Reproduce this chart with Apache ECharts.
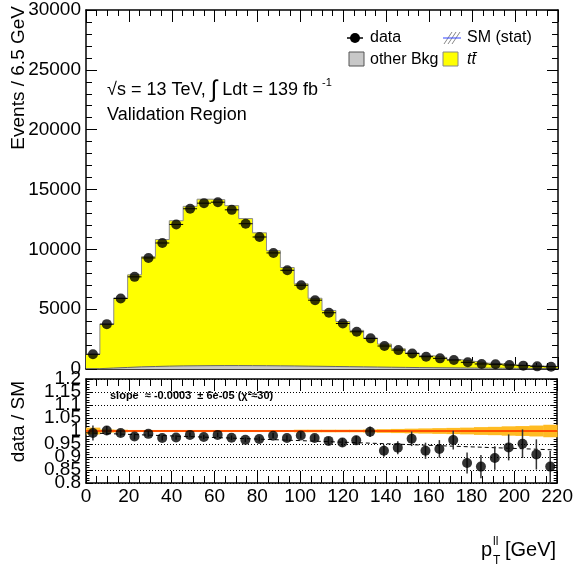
<!DOCTYPE html>
<html>
<head>
<meta charset="utf-8">
<script src="https://cdn.jsdelivr.net/npm/echarts@6/dist/echarts.min.js"></script>
<style>
  html, body { margin: 0; padding: 0; background: #fff; }
  #chart { width: 576px; height: 570px; }
</style>
</head>
<body>
<div id="chart"></div>
<script>
// 34 bins from 0 to 220 GeV
var binWidth = 220 / 34;

// events per bin
var dataCounts = [1230, 3750, 5890, 7700, 9280, 10530, 12080, 13390, 13860, 13940,
  13300, 12140, 11030, 9700, 8250, 7000, 5750, 4700, 3800, 3110,
  2560, 1920, 1580, 1300, 1030, 890, 750, 560, 420, 390,
  330, 280, 220, 190];
var ttbarMC = [1210, 3660, 5810, 7690, 9170, 10580, 12130, 13320, 13910, 13865,
  13365, 12290, 11105, 9615, 8225, 6880, 5685, 4680, 3775, 3050,
  2405, 1930, 1555, 1220, 1000, 860, 690, 560, 418, 370,
  292, 243, 193, 178];
var otherBkg = [30, 80, 130, 180, 210, 240, 260, 270, 280, 285,
  285, 280, 275, 265, 255, 240, 225, 210, 195, 180,
  165, 150, 135, 120, 110, 100, 90, 80, 72, 65,
  58, 52, 47, 42];

// data / SM
var ratioVals = [0.992, 1.002, 0.992, 0.979, 0.989, 0.973, 0.975, 0.985, 0.977, 0.985,
  0.974, 0.966, 0.969, 0.982, 0.973, 0.983, 0.973, 0.962, 0.956, 0.964,
  0.997, 0.924, 0.936, 0.970, 0.924, 0.931, 0.965, 0.877, 0.863, 0.896,
  0.937, 0.951, 0.910, 0.863];
var ratioErr = [0.029, 0.017, 0.013, 0.012, 0.011, 0.010, 0.009, 0.009, 0.009, 0.009,
  0.009, 0.009, 0.0095, 0.010, 0.011, 0.012, 0.013, 0.015, 0.016, 0.018,
  0.020, 0.023, 0.025, 0.028, 0.031, 0.034, 0.036, 0.040, 0.045, 0.045,
  0.050, 0.055, 0.058, 0.060];
// SM stat band half width
var bandHalf = [0.013, 0.006, 0.005, 0.004, 0.004, 0.004, 0.004, 0.004, 0.004, 0.004,
  0.004, 0.004, 0.004, 0.004, 0.004, 0.005, 0.005, 0.005, 0.005, 0.005,
  0.006, 0.007, 0.008, 0.009, 0.010, 0.011, 0.012, 0.013, 0.015, 0.016,
  0.018, 0.019, 0.021, 0.024];

var fitIntercept = 0.993;
var fitSlope = -0.0003;

var xTicks = { min: 0, max: 220, interval: 20 };
// ratio labels split in two sets so ECharts does not drop the crowded ones
var ratioLabelsA = [0.8, 0.9, 1, 1.1, 1.2];
var ratioLabelsB = [0.85, 0.95, 1.05, 1.15];
var font = 'Liberation Sans, Arial, Helvetica, sans-serif';

// stacked total (ttbar on top of other Bkg)
var stackTop = ttbarMC.map(function (v, i) { return v + otherBkg[i]; });

function stepData(vals) {
  var d = vals.map(function (v, i) { return [i * binWidth, v]; });
  d.push([vals.length * binWidth, vals[vals.length - 1]]);
  return d;
}
function centers(vals) {
  return vals.map(function (v, i) { return [(i + 0.5) * binWidth, v]; });
}

var chart = echarts.init(document.getElementById('chart'));

function xAxisDef(grid, pos, showLabel, tickLen, minorLen) {
  return {
    type: 'value', gridIndex: grid, position: pos,
    min: xTicks.min, max: xTicks.max, interval: xTicks.interval,
    axisLine: { show: true, onZero: false, lineStyle: { color: '#000', width: 1.5 } },
    axisTick: { show: true, inside: true, length: tickLen, lineStyle: { color: '#000', width: 1 } },
    minorTick: { show: true, splitNumber: 4, length: minorLen, lineStyle: { color: '#000', width: 1 } },
    axisLabel: { show: showLabel, color: '#000', fontSize: 19, fontFamily: font, margin: 4,
      showMinLabel: true, showMaxLabel: true,
      formatter: function (v) { return String(Math.round(v)); } },
    splitLine: { show: false }
  };
}
function yAxisDef(grid, pos, min, max, interval, split, showLabel, tickLen, minorLen, dotted) {
  return {
    type: 'value', gridIndex: grid, position: pos,
    min: min, max: max, interval: interval,
    axisLine: { show: true, onZero: false, lineStyle: { color: '#000', width: 1.5 } },
    axisTick: { show: true, inside: true, length: tickLen, lineStyle: { color: '#000', width: 1 } },
    minorTick: { show: true, splitNumber: split, length: minorLen, lineStyle: { color: '#000', width: 1 } },
    axisLabel: { show: showLabel, color: '#000', fontSize: 19, fontFamily: font, margin: 5, hideOverlap: false,
      showMinLabel: true, showMaxLabel: true,
      formatter: function (v) { return String(parseFloat(v.toFixed(2))); } },
    splitLine: dotted ? { show: true, lineStyle: { color: '#000', width: 1, type: [1, 2] } } : { show: false }
  };
}

var ratioLeft = yAxisDef(1, 'left', 0.8, 1.2, 0.05, 5, true, 7, 3.5, true);
ratioLeft.axisLabel.customValues = ratioLabelsA;
var ratioLabelAxis = {
  type: 'value', gridIndex: 1, position: 'left', min: 0.8, max: 1.2, interval: 0.05,
  axisLine: { show: false, onZero: false }, axisTick: { show: false }, splitLine: { show: false },
  axisLabel: { show: true, color: '#000', fontSize: 19, fontFamily: font, margin: 5, hideOverlap: false,
    customValues: ratioLabelsB,
    formatter: function (v) { return String(parseFloat(v.toFixed(2))); } }
};

var option = {
  animation: false,
  backgroundColor: '#fff',
  grid: [
    { left: 86, right: 18, top: 10, height: 359 },
    { left: 86, right: 18, top: 379, height: 104 }
  ],
  xAxis: [
    xAxisDef(0, 'bottom', false, 12, 6),
    xAxisDef(0, 'top', false, 12, 6),
    xAxisDef(1, 'bottom', true, 12, 7),
    xAxisDef(1, 'top', false, 12, 7)
  ],
  yAxis: [
    yAxisDef(0, 'left', 0, 30000, 5000, 5, true, 11, 6, false),
    yAxisDef(0, 'right', 0, 30000, 5000, 5, false, 11, 6, false),
    ratioLeft,
    yAxisDef(1, 'right', 0.8, 1.2, 0.05, 5, false, 7, 3.5, false),
    ratioLabelAxis
  ],
  series: [
    {
      name: 'ttbar', type: 'line', xAxisIndex: 0, yAxisIndex: 0,
      step: 'end', symbol: 'none', data: stepData(stackTop),
      lineStyle: { color: '#8c8c8c', width: 1 },
      areaStyle: { color: '#ffff00', opacity: 1 }, z: 1
    },
    {
      name: 'other Bkg', type: 'line', xAxisIndex: 0, yAxisIndex: 0,
      step: 'end', symbol: 'none', data: stepData(otherBkg),
      lineStyle: { color: '#666', width: 1 },
      areaStyle: { color: '#c8c8c8', opacity: 1 }, z: 2
    },
    {
      name: 'data xerr', type: 'custom', xAxisIndex: 0, yAxisIndex: 0,
      data: centers(dataCounts), z: 3, silent: true,
      renderItem: function (params, api) {
        var x = api.value(0), y = api.value(1);
        var p0 = api.coord([x - binWidth / 2, y]);
        var p1 = api.coord([x + binWidth / 2, y]);
        return { type: 'line', shape: { x1: p0[0], y1: p0[1], x2: p1[0], y2: p1[1] },
          style: { stroke: '#000', lineWidth: 1 } };
      }
    },
    {
      name: 'data', type: 'scatter', xAxisIndex: 0, yAxisIndex: 0,
      data: centers(dataCounts), symbol: 'circle', symbolSize: 10,
      itemStyle: { color: '#000' }, z: 4
    },
    {
      name: 'SM stat band', type: 'custom', xAxisIndex: 2, yAxisIndex: 2,
      data: bandHalf.map(function (h, i) { return [i, h]; }), z: 1, silent: true, clip: true,
      renderItem: function (params, api) {
        var i = api.value(0), h = api.value(1);
        var p0 = api.coord([i * binWidth, 1 + h]);
        var p1 = api.coord([(i + 1) * binWidth, 1 - h]);
        return { type: 'rect', shape: { x: p0[0], y: p0[1], width: p1[0] - p0[0] + 0.5, height: p1[1] - p0[1] },
          style: { fill: '#ffbb22' } };
      }
    },
    {
      name: 'unity', type: 'line', xAxisIndex: 2, yAxisIndex: 2, symbol: 'none',
      data: [[xTicks.min, 1], [xTicks.max, 1]],
      lineStyle: { color: '#ff5000', width: 2 }, z: 2
    },
    {
      name: 'fit', type: 'line', xAxisIndex: 2, yAxisIndex: 2, symbol: 'none',
      data: [[xTicks.min, fitIntercept], [xTicks.max, fitIntercept + fitSlope * xTicks.max]],
      lineStyle: { color: '#000', width: 1, type: [4, 3] }, z: 3
    },
    {
      name: 'ratio err', type: 'custom', xAxisIndex: 2, yAxisIndex: 2,
      data: ratioVals.map(function (r, i) { return [(i + 0.5) * binWidth, r, ratioErr[i]]; }),
      z: 4, silent: true, clip: true,
      renderItem: function (params, api) {
        var x = api.value(0), y = api.value(1), e = api.value(2);
        var p0 = api.coord([x, y - e]);
        var p1 = api.coord([x, y + e]);
        return { type: 'line', shape: { x1: p0[0], y1: p0[1], x2: p1[0], y2: p1[1] },
          style: { stroke: '#333', lineWidth: 1.5 } };
      }
    },
    {
      name: 'ratio', type: 'scatter', xAxisIndex: 2, yAxisIndex: 2,
      data: centers(ratioVals), symbol: 'circle', symbolSize: 10,
      itemStyle: { color: '#000' }, z: 5
    }
  ],
  graphic: [
    // axis titles
    { type: 'text', x: 19, y: 6, rotation: Math.PI / 2,
      style: { text: 'Events / 6.5 GeV', fontSize: 19, fontFamily: font, fill: '#000', textAlign: 'right', textVerticalAlign: 'middle' } },
    { type: 'text', x: 19, y: 381, rotation: Math.PI / 2,
      style: { text: 'data / SM', fontSize: 19, fontFamily: font, fill: '#000', textAlign: 'right', textVerticalAlign: 'middle' } },
    { type: 'text', x: 481, y: 550,
      style: { text: 'p', fontSize: 20, fontFamily: font, fill: '#000', textAlign: 'left', textVerticalAlign: 'middle' } },
    { type: 'text', x: 493, y: 542,
      style: { text: 'll', fontSize: 12, fontFamily: font, fill: '#000', textAlign: 'left', textVerticalAlign: 'middle' } },
    { type: 'text', x: 493, y: 561,
      style: { text: 'T', fontSize: 12, fontFamily: font, fill: '#000', textAlign: 'left', textVerticalAlign: 'middle' } },
    { type: 'text', x: 505, y: 550,
      style: { text: '[GeV]', fontSize: 20, fontFamily: font, fill: '#000', textAlign: 'left', textVerticalAlign: 'middle' } },
    // labels in the plot
    { type: 'text', x: 107, y: 90,
      style: { text: '√s = 13 TeV, {i|∫} Ldt = 139 fb', rich: { i: { fontSize: 24, fontFamily: font } },
        fontSize: 18, fontFamily: font, fill: '#000', textAlign: 'left', textVerticalAlign: 'middle' } },
    { type: 'text', x: 322, y: 83,
      style: { text: '-1', fontSize: 11, fontFamily: font, fill: '#000', textAlign: 'left', textVerticalAlign: 'middle' } },
    { type: 'text', x: 107, y: 115,
      style: { text: 'Validation Region', fontSize: 18, fontFamily: font, fill: '#000', textAlign: 'left', textVerticalAlign: 'middle' } },
    { type: 'text', x: 110, y: 396,
      style: { text: 'slope  ≈ -0.0003  ± 6e-05 (χ²≈30)', fontSize: 11, fontWeight: 'bold', fontFamily: font, fill: '#000', textAlign: 'left', textVerticalAlign: 'middle' } },
    // legend
    { type: 'line', shape: { x1: 347, y1: 38, x2: 363, y2: 38 }, style: { stroke: '#000', lineWidth: 1.5 } },
    { type: 'circle', shape: { cx: 355, cy: 38, r: 5 }, style: { fill: '#000' } },
    { type: 'text', x: 370, y: 38,
      style: { text: 'data', fontSize: 16, fontFamily: font, fill: '#000', textAlign: 'left', textVerticalAlign: 'middle' } },
    { type: 'line', shape: { x1: 444, y1: 44, x2: 452, y2: 32 }, style: { stroke: '#888', lineWidth: 1 } },
    { type: 'line', shape: { x1: 448, y1: 44, x2: 456, y2: 32 }, style: { stroke: '#888', lineWidth: 1 } },
    { type: 'line', shape: { x1: 452, y1: 44, x2: 460, y2: 32 }, style: { stroke: '#888', lineWidth: 1 } },
    { type: 'line', shape: { x1: 443, y1: 38, x2: 461, y2: 38 }, style: { stroke: '#3344ff', lineWidth: 1 } },
    { type: 'text', x: 467, y: 38,
      style: { text: 'SM (stat)', fontSize: 16, fontFamily: font, fill: '#000', textAlign: 'left', textVerticalAlign: 'middle' } },
    { type: 'rect', shape: { x: 349, y: 52, width: 15, height: 14 }, style: { fill: '#c8c8c8', stroke: '#555', lineWidth: 1 } },
    { type: 'text', x: 370, y: 60,
      style: { text: 'other Bkg', fontSize: 16, fontFamily: font, fill: '#000', textAlign: 'left', textVerticalAlign: 'middle' } },
    { type: 'rect', shape: { x: 443, y: 52, width: 15, height: 14 }, style: { fill: '#ffff00', stroke: '#888', lineWidth: 1 } },
    { type: 'text', x: 467, y: 60,
      style: { text: 'tt\u0304', fontSize: 16, fontStyle: 'italic', fontFamily: font, fill: '#000', textAlign: 'left', textVerticalAlign: 'middle' } }
  ]
};

chart.setOption(option);
</script>
</body>
</html>
